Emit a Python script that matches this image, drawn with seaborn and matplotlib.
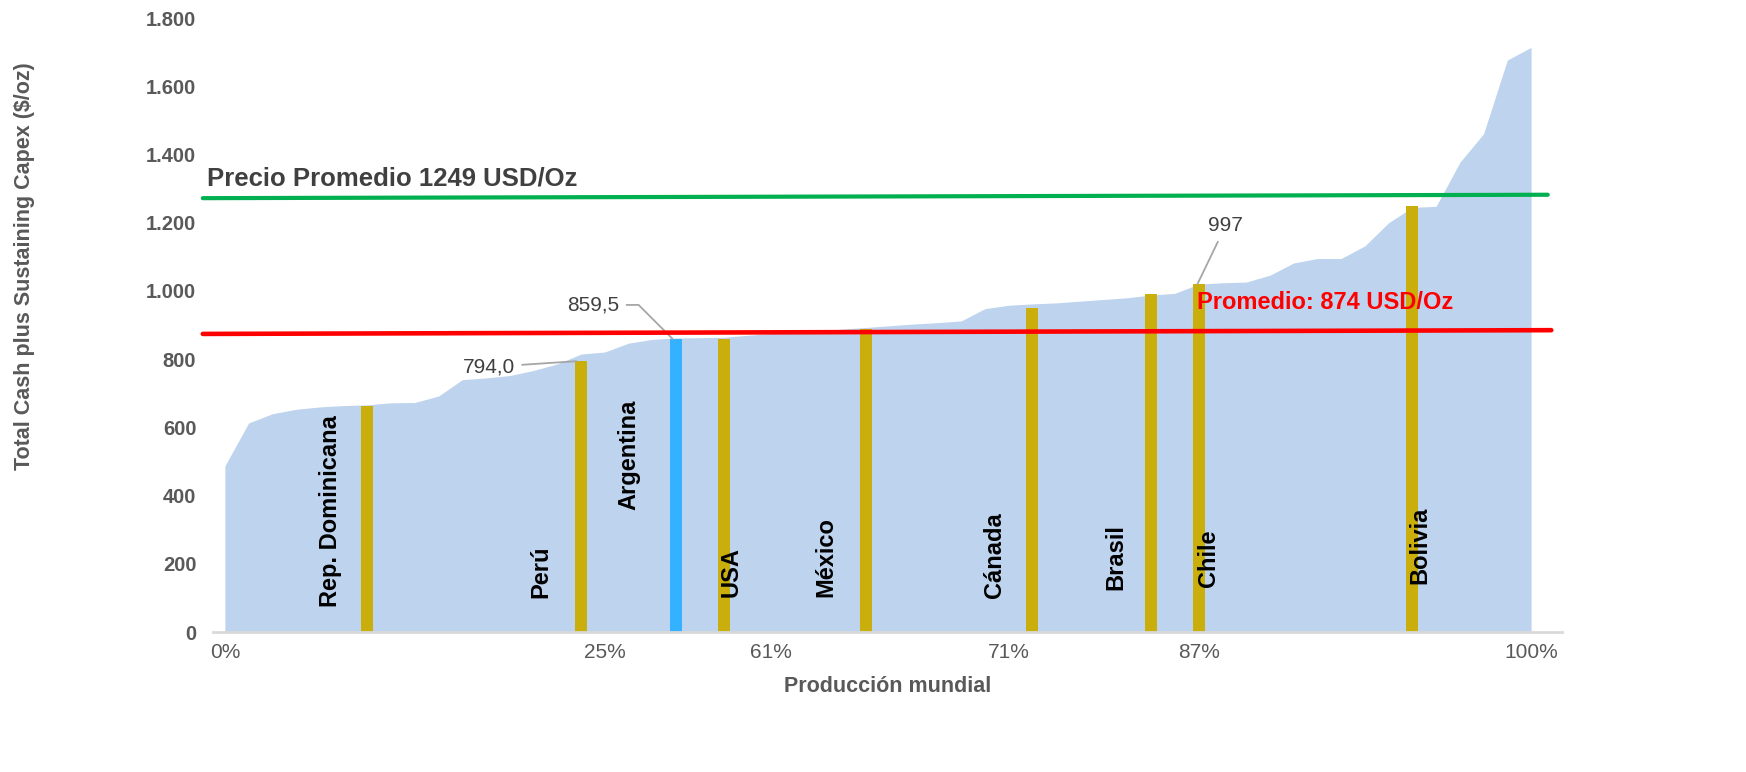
import matplotlib
matplotlib.use("Agg")
import matplotlib.pyplot as plt
import seaborn as sns
import numpy as np
import pandas as pd

# Curva de costos (USD/oz) por posicion de produccion acumulada
cost_curve = [487, 613, 640, 653, 660, 664, 666, 672, 673, 692,
              740, 745, 752, 767, 786, 815, 821, 847, 858, 862,
              863, 864, 870, 875, 880, 884, 888, 893, 898, 903,
              907, 912, 948, 958, 962, 965, 970, 975, 980, 988,
              993, 1020, 1024, 1026, 1046, 1082, 1095, 1095, 1132, 1200,
              1245, 1248, 1377, 1461, 1677, 1714]

# Paises destacados
countries = ["Rep. Dominicana", "Perú", "Argentina", "USA", "México",
             "Cánada", "Brasil", "Chile", "Bolivia"]
country_pos = [6, 15, 19, 21, 27, 34, 39, 41, 50]
country_cost = [662, 794.0, 859.5, 860, 888, 950, 991, 1020, 1249]

tick_pos = [0, 16, 23, 33, 41, 55]
tick_labels = ["0%", "25%", "61%", "71%", "87%", "100%"]

precio_promedio = [1272, 1282]
promedio_costo = [874, 885]

# layout de etiquetas de paises (desplazamiento x, base y)
label_dx = [-1.55, -1.7, -2.0, 0.3, -1.7, -1.6, -1.5, 0.4, 0.3]
label_y = [73, 100, 358, 103, 103, 100, 123, 132, 141]

GOLD = "#C9AE0C"
ARG = "#35B2FF"
AREA = "#BDD3EE"
GRAY = "#595959"

sns.set_style("white")
plt.rcParams["font.family"] = ["Liberation Sans", "DejaVu Sans"]

fig = plt.figure(figsize=(17.46, 7.72), dpi=100)
ax = fig.add_axes([0.122, 0.1813, 0.7726, 0.7953])

idx = np.arange(len(cost_curve))
ax.fill_between(idx, 0, cost_curve, color=AREA, lw=0, zorder=1)

df = pd.DataFrame({"pos": country_pos, "cost": country_cost, "pais": countries})
palette = {c: (ARG if c == "Argentina" else GOLD) for c in countries}
sns.barplot(data=df, x="pos", y="cost", hue="pais", palette=palette,
            native_scale=True, width=0.25, legend=False, ax=ax, zorder=2,
            saturation=1)
for p in ax.patches:
    p.set_linewidth(0)

# lineas de promedio
x0, x1 = -0.93, 55.7
ax.plot([x0, x1], precio_promedio, color="#00B050", lw=3, clip_on=False, zorder=4)
ax.plot([x0, x1 + 0.15], promedio_costo, color="#FF0000", lw=3.3, clip_on=False, zorder=4)

ax.text(-0.76, 1331, "Precio Promedio 1249 USD/Oz", fontsize=18.5, fontweight="bold",
        color="#404040", va="center", ha="left", clip_on=False)
ax.text(40.93, 965, "Promedio: 874 USD/Oz", fontsize=17, fontweight="bold",
        color="#FF0000", va="center", ha="left", zorder=5)

for name, pos, dx, yb in zip(countries, country_pos, label_dx, label_y):
    ax.text(pos + dx, yb, name, rotation=90, ha="center", va="bottom",
            fontsize=17, fontweight="bold", color="black", zorder=6)

# etiquetas de datos
lead = dict(arrowstyle="-", color="#A6A6A6", lw=1.3, shrinkA=3, shrinkB=0)
ax.annotate("794,0", xy=(country_pos[1] - 0.2, country_cost[1]), xytext=(12.2, 777),
            ha="right", va="center", fontsize=15, color="#404040", arrowprops=lead)
ax.annotate("859,5", xy=(country_pos[2] - 0.15, country_cost[2]), xytext=(16.6, 959),
            ha="right", va="center", fontsize=15, color="#404040",
            arrowprops=dict(lead, connectionstyle="angle,angleA=0,angleB=135,rad=0"))
ax.annotate("997", xy=(country_pos[7] - 0.05, country_cost[7]), xytext=(42.15, 1193),
            ha="center", va="center", fontsize=15, color="#404040", arrowprops=lead)

ax.set_xlim(-0.5, 56.3)
ax.set_ylim(0, 1800)
ax.set_yticks(range(0, 1801, 200))
ax.set_yticklabels([f"{v:,}".replace(",", ".") for v in range(0, 1801, 200)],
                   fontsize=14.5, fontweight="bold", color=GRAY)
ax.set_xticks(tick_pos)
ax.set_xticklabels(tick_labels, fontsize=15, color=GRAY)
ax.tick_params(axis="both", length=0)
ax.tick_params(axis="y", pad=12)
ax.tick_params(axis="x", pad=8)
ax.set_xlabel("Producción mundial", fontsize=15.5, fontweight="bold", color=GRAY, labelpad=10)
ax.set_ylabel("")

for s in ["top", "right", "left"]:
    ax.spines[s].set_visible(False)
ax.spines["bottom"].set_color("#D9D9D9")
ax.spines["bottom"].set_linewidth(2)
ax.spines["bottom"].set_zorder(3)

fig.text(25 / 1746, 1 - 266 / 772, "Total Cash plus Sustaining Capex ($/oz)",
         rotation=90, ha="center", va="center", fontsize=15.5, fontweight="bold", color=GRAY)

fig.savefig("out.png", dpi=100, facecolor="white")
